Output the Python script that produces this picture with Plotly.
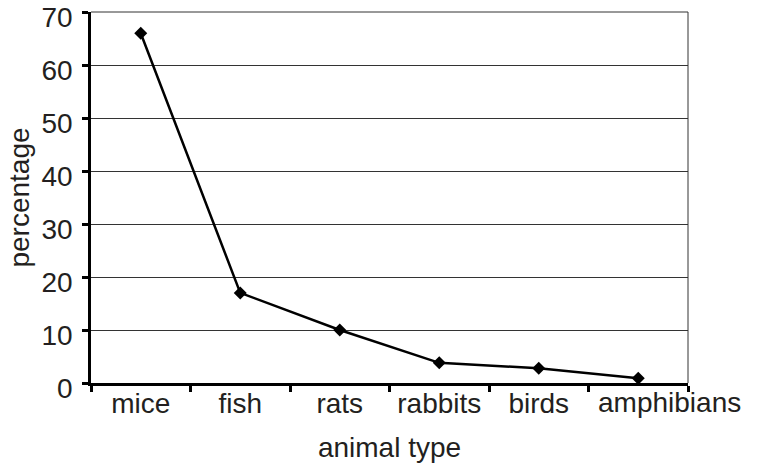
import plotly.graph_objects as go

categories = ["mice", "fish", "rats", "rabbits", "birds", "amphibians"]
percentages = [66, 17, 10, 3.8, 2.8, 0.9]
y_ticks = [0, 10, 20, 30, 40, 50, 60, 70]
# the last label is drawn pushed right (as in the original) so it clears "birds"
x_tick_text = ["mice", "fish", "rats", "rabbits", "birds", ""]
shifted_label = categories[-1]

font = "Liberation Sans, Arial, sans-serif"
text_color = "#231f20"

fig = go.Figure()
fig.add_trace(go.Scatter(
    x=categories, y=percentages, mode="lines+markers",
    line=dict(color="black", width=2.5),
    marker=dict(symbol="diamond", size=10, color="black"),
    showlegend=False,
))

fig.update_layout(
    width=759, height=466,
    margin=dict(l=91, r=71, t=12, b=83),
    paper_bgcolor="white", plot_bgcolor="white",
    font=dict(family=font, size=28, color=text_color),
    xaxis=dict(
        type="category", range=[-0.5, 5.5], tickson="boundaries",
        tickmode="array", tickvals=categories, ticktext=x_tick_text,
        tickangle=0, automargin=False, ticklabeloverflow="allow",
        ticklabelstandoff=-6,
        ticks="outside", ticklen=6, tickwidth=2.5, tickcolor="black",
        showline=True, linecolor="black", linewidth=2.5,
        showgrid=False, zeroline=False,
        title=dict(text="animal type\u00a0\u00a0", font=dict(size=28), standoff=20),
    ),
    yaxis=dict(
        range=[0, 70], tickvals=y_ticks, automargin=False,
        ticklabeloverflow="allow", ticklabelshift=5,
        ticks="outside", ticklen=6, tickwidth=2.5, tickcolor="black",
        ticklabelstandoff=4,
        showline=True, linecolor="black", linewidth=2.5,
        showgrid=True, gridcolor="#333", gridwidth=1,
        zeroline=False,
        title=dict(text="percentage", font=dict(size=28), standoff=4),
    ),
    shapes=[
        dict(type="line", xref="paper", yref="paper", x0=1, x1=1, y0=0, y1=1,
             line=dict(color="#333", width=1)),
        dict(type="line", xref="paper", yref="paper", x0=0, x1=1, y0=1, y1=1,
             line=dict(color="#333", width=1)),
    ],
    annotations=[dict(
        x=shifted_label, xref="x", y=0, yref="paper", yanchor="top",
        text=shifted_label, showarrow=False, xshift=31, yshift=-2,
        font=dict(family=font, size=28, color=text_color),
    )],
)

fig.write_html("out.html", config={"displayModeBar": False},
               post_script="document.body.style.margin='0';")
